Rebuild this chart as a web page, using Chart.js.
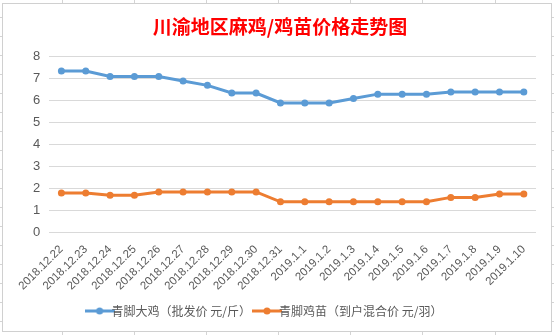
<!DOCTYPE html>
<html>
<head>
<meta charset="utf-8">
<script src="https://cdn.jsdelivr.net/npm/chart.js@4"></script>
<style>
html,body{margin:0;padding:0;background:#fff;}
#wrap{width:554px;height:335px;position:relative;}
</style>
</head>
<body>
<div id="wrap"><canvas id="c" width="554" height="335"></canvas></div>
<script>
const titleText = '川渝地区麻鸡/鸡苗价格走势图';
const categories = ['2018.12.22','2018.12.23','2018.12.24','2018.12.25','2018.12.26','2018.12.27','2018.12.28','2018.12.29','2018.12.30','2018.12.31','2019.1.1','2019.1.2','2019.1.3','2019.1.4','2019.1.5','2019.1.6','2019.1.7','2019.1.8','2019.1.9','2019.1.10'];
const seriesNames = ['青脚大鸡（批发价 元/斤）','青脚鸡苗（到户混合价 元/羽）'];
const chickenPrice = [7.35,7.35,7.1,7.1,7.1,6.9,6.7,6.35,6.35,5.9,5.9,5.9,6.1,6.3,6.3,6.3,6.4,6.4,6.4,6.4];
const chickPrice = [1.8,1.8,1.7,1.7,1.85,1.85,1.85,1.85,1.85,1.4,1.4,1.4,1.4,1.4,1.4,1.4,1.6,1.6,1.75,1.75];
const yTicks = [0,1,2,3,4,5,6,7,8];

const blue = '#5B9BD5', orange = '#ED7D31', textColor = '#595959', gridColor = '#D9D9D9';

function legendIcon(color){
  const cv = document.createElement('canvas');
  cv.width = 30; cv.height = 10;
  const g = cv.getContext('2d');
  g.strokeStyle = color; g.lineWidth = 3;
  g.beginPath(); g.moveTo(0,5); g.lineTo(30,5); g.stroke();
  g.fillStyle = color;
  g.beginPath(); g.arc(15,5,3.5,0,Math.PI*2); g.fill();
  return cv;
}
const icons = [legendIcon(blue), legendIcon(orange)];

const sheetPlugin = {
  id: 'sheet',
  beforeDraw(chart){
    const ctx = chart.ctx;
    ctx.save();
    ctx.fillStyle = '#fff';
    ctx.fillRect(0,0,chart.width,chart.height);
    ctx.strokeStyle = '#D4D4D4';
    ctx.lineWidth = 1;
    ctx.beginPath();
    for(let y=17.5;y<335;y+=19){ ctx.moveTo(0,y); ctx.lineTo(2.5,y); ctx.moveTo(551.5,y); ctx.lineTo(554,y); }
    for(let x=61.5;x<554;x+=72.2){ const xx=Math.round(x)+0.5; ctx.moveTo(xx,0); ctx.lineTo(xx,3); ctx.moveTo(xx,331.5); ctx.lineTo(xx,335); }
    ctx.stroke();
    ctx.strokeStyle = '#D0D0D0';
    ctx.strokeRect(2.5,3.5,549,328);
    ctx.restore();
  },
  afterUpdate(chart){
    if(chart.legend){ chart.legend.left -= 12; chart.legend.right -= 12; }
  }
};

new Chart(document.getElementById('c'), {
  type: 'line',
  data: {
    labels: categories,
    datasets: [
      {label: seriesNames[0], data: chickenPrice, borderColor: blue, backgroundColor: blue, borderWidth: 3, pointRadius: 3.5, pointBackgroundColor: blue, pointBorderWidth: 0, tension: 0, pointStyle: 'circle'},
      {label: seriesNames[1], data: chickPrice, borderColor: orange, backgroundColor: orange, borderWidth: 3, pointRadius: 3.5, pointBackgroundColor: orange, pointBorderWidth: 0, tension: 0, pointStyle: 'circle'}
    ]
  },
  options: {
    responsive: false,
    animation: false,
    devicePixelRatio: 1,
    layout: {padding: {left: 24, right: 18, top: 6, bottom: 8}},
    plugins: {
      title: {display: true, text: titleText, color: '#FF0000', font: {family: '"Noto Sans CJK SC"', size: 19, weight: 'bold'}, padding: {top: 9, bottom: 19}},
      legend: {
        position: 'bottom',
        labels: {
          color: textColor,
          font: {family: '"Noto Sans CJK SC"', size: 12},
          usePointStyle: true,
          padding: 10,
          generateLabels(chart){
            return chart.data.datasets.map((ds,i)=>({text: ds.label, fillStyle: ds.borderColor, strokeStyle: ds.borderColor, pointStyle: icons[i], datasetIndex: i, hidden: false, lineWidth: 0, fontColor: textColor}));
          }
        }
      },
      tooltip: {enabled: false}
    },
    scales: {
      x: {
        offset: true,
        grid: {display: false},
        border: {display: false},
        ticks: {color: textColor, font: {family: '"Liberation Sans"', size: 11.5}, minRotation: 45, maxRotation: 45, autoSkip: false, padding: 2}
      },
      y: {
        min: 0, max: 8,
        afterBuildTicks(axis){ axis.ticks = yTicks.map(v=>({value: v})); },
        grid: {color: gridColor, lineWidth: 1, drawTicks: false},
        border: {display: false},
        ticks: {color: textColor, font: {family: '"Liberation Sans"', size: 13}, padding: 9}
      }
    }
  },
  plugins: [sheetPlugin]
});
</script>
</body>
</html>
